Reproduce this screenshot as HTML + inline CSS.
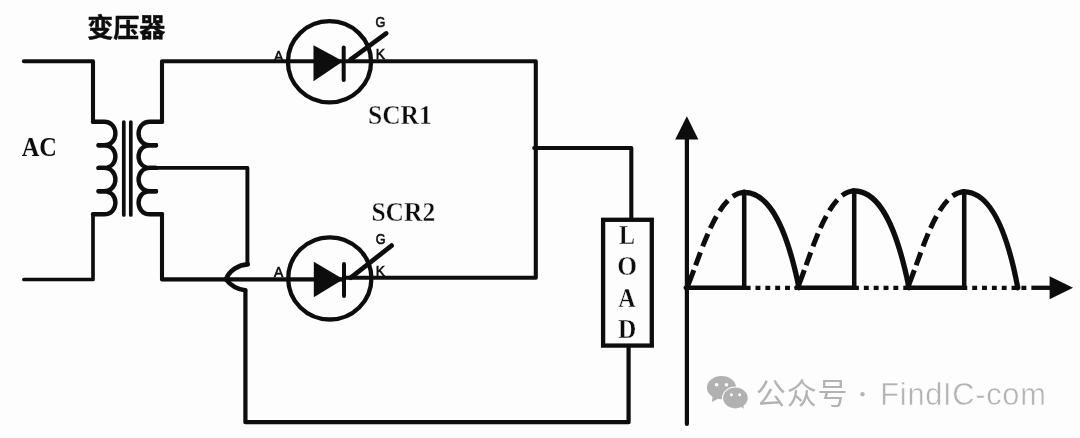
<!DOCTYPE html>
<html lang="zh">
<head>
<meta charset="utf-8">
<title>SCR full-wave rectifier</title>
<style>
html,body{margin:0;padding:0;background:#fdfdfe;}
body{width:1080px;height:438px;overflow:hidden;position:relative;}
svg{display:block;position:absolute;left:0;top:0;}
.w{fill:none;stroke:#0b0b0b;stroke-width:4.1;stroke-linecap:round;stroke-linejoin:round;}
.c{stroke-width:4.4;stroke-linejoin:round;}
.serif{font-family:"Liberation Serif","Noto Serif CJK SC",serif;fill:#111;}
.sans{font-family:"Liberation Sans","Noto Sans CJK SC",sans-serif;fill:#111;}
.wm{font-family:"Liberation Sans","Noto Sans CJK SC",sans-serif;fill:#b3b3b3;font-size:30px;}
</style>
</head>
<body>
<svg width="1080" height="438" viewBox="0 0 1080 438">
<defs>
<filter id="soft" x="0" y="0" width="1080" height="438" filterUnits="userSpaceOnUse"><feGaussianBlur stdDeviation="0.5"/></filter>
<filter id="soft2" x="0" y="0" width="1080" height="438" filterUnits="userSpaceOnUse"><feGaussianBlur stdDeviation="0.7"/></filter>
</defs>
<rect width="1080" height="438" fill="#fdfdfe"/>
<g filter="url(#soft)">
<!-- AC input wires -->
<path class="w" d="M23.9,61.3 H93 V121.7"/>
<path class="w" style="stroke-width:3.7" d="M23.9,279.5 H93 V214.3"/>
<!-- primary coil -->
<path class="w c" d="M93,121.7 H104 C119.2,121.7 119.2,145.2 104,145.2 H98.6"/>
<path class="w c" d="M98.6,145.2 H104 C119.2,145.2 119.2,167.9 104,167.9 H98.6"/>
<path class="w c" d="M98.6,167.9 H104 C119.2,167.9 119.2,191.2 104,191.2 H98.6"/>
<path class="w c" d="M98.6,191.2 H104 C119.2,191.2 119.2,214.3 104,214.3 H93"/>
<!-- core -->
<path class="w" style="stroke-width:3.7" d="M123.8,122 V215 M130.8,122 V215"/>
<!-- secondary coil -->
<path class="w c" d="M162,121.7 H150 C134.8,121.7 134.8,145.2 150,145.2 H156"/>
<path class="w c" d="M156,145.2 H150 C134.8,145.2 134.8,167.9 150,167.9 H156"/>
<path class="w c" d="M156,167.9 H150 C134.8,167.9 134.8,191.2 150,191.2 H156"/>
<path class="w c" d="M156,191.2 H150 C134.8,191.2 134.8,214.3 150,214.3 H162"/>
<!-- secondary wires -->
<path class="w" d="M162,121.7 V61.3 H535.8 V277.7 H344"/>
<path class="w" d="M344,279.4 H162 V214.3"/>
<path class="w" style="stroke-width:3.9" d="M156,167.9 H247.4 V264"/>
<path class="w" style="stroke-width:4.6;stroke-linejoin:round" d="M247.8,264.4 C239,264.8 229.5,270 226,279.4 C229.5,284 236.5,289.3 245.2,290.3"/>
<path class="w" style="stroke-width:4.2" d="M245.4,290.3 V422.2 H628.6 V346"/>
<path class="w" d="M534.2,148 H631.3 V219"/>
<!-- load -->
<rect class="w" x="603.1" y="219.8" width="48.7" height="125.8" style="stroke-linejoin:miter;stroke-width:4.3"/>
<!-- SCR1 -->
<ellipse class="w" style="stroke-width:4.3" cx="329.5" cy="61.8" rx="41.6" ry="40.6"/>
<path d="M313.5,45.3 L343.1,61.3 L313.5,81.3 Z" fill="#0b0b0b"/>
<path class="w" style="stroke-width:4" d="M343.7,47.5 V80.1"/>
<path class="w" style="stroke-width:4.7" d="M350.5,59.7 L386.2,33.4"/>
<text class="sans" transform="translate(274.0,60.8) scale(1.04,1.17)" font-size="13.3" stroke="#111" stroke-width="0.6">A</text>
<text class="sans" transform="translate(375.6,26.6) scale(0.95,1.12)" font-size="13.3" stroke="#111" stroke-width="0.6">G</text>
<text class="sans" transform="translate(375.8,59.2) scale(1.04,1.17)" font-size="13.3" stroke="#111" stroke-width="0.6">K</text>
<!-- SCR2 -->
<ellipse class="w" style="stroke-width:4.3" cx="329.8" cy="278.4" rx="41.6" ry="41.1"/>
<path d="M313.8,261.7 L343.4,279.3 L313.8,297.3 Z" fill="#0b0b0b"/>
<path class="w" style="stroke-width:4" d="M344.0,263.9 V296.1"/>
<path class="w" style="stroke-width:4.7" d="M350.8,277.7 L391.6,245.6"/>
<text class="sans" transform="translate(274.0,277.0) scale(1.04,1.17)" font-size="13.3" stroke="#111" stroke-width="0.6">A</text>
<text class="sans" transform="translate(375.8,243.6) scale(0.95,1.12)" font-size="13.3" stroke="#111" stroke-width="0.6">G</text>
<text class="sans" transform="translate(375.8,275.8) scale(1.04,1.17)" font-size="13.3" stroke="#111" stroke-width="0.6">K</text>
<!-- axes -->
<path class="w" style="stroke-width:4.2" d="M686.9,130 V424"/>
<path d="M686.8,116.3 L698.4,139.6 H675.2 Z" fill="#0b0b0b"/>
<path class="w" style="stroke-width:4.3;stroke-linecap:butt" d="M1031.4,287.8 H1052"/>
<path d="M1073,287.7 L1049.6,276.3 V299.2 Z" fill="#0b0b0b"/>
<!-- waveform -->
<path class="w" style="stroke-linecap:butt;stroke-dasharray:4.9 4.95;stroke-width:4.3" d="M745.65,287.8 H799.8 M854,287.8 H908.2 M962.35,287.8 H1031"/>
<path class="w" style="stroke-width:5.0;stroke-linecap:butt;stroke-dasharray:19 5.2 13.7 6.3 13.7 5.9 13.2 6.4 13.4 6.4 30" d="M687.0,287.7 C699.5,258.7 716.6,192.4 744.2,192.4"/>
<path class="w" style="stroke-width:5.3" d="M743.2,192.4 H744.2 C761.8,192.4 782.8,209.0 799.0,287.7"/>
<path class="w" style="stroke-width:4.5" d="M744.2,191.8 V287.7"/>
<path class="w" style="stroke-width:4.6" d="M685.8,287.7 H744.2"/>
<path class="w" style="stroke-width:5.0;stroke-linecap:butt;stroke-dasharray:19 5.2 13.7 6.3 13.7 5.9 13.2 6.4 13.4 6.4 30" d="M797.6,287.7 C810.1,258.7 826.6,191.0 854.2,191.0"/>
<path class="w" style="stroke-width:5.3" d="M853.2,191.0 H854.2 C871.8,191.0 892.8,207.6 909.0,287.7"/>
<path class="w" style="stroke-width:4.5" d="M854.2,190.4 V287.7"/>
<path class="w" style="stroke-width:4.6" d="M796.4,287.7 H854.2"/>
<path class="w" style="stroke-width:5.0;stroke-linecap:butt;stroke-dasharray:19 5.2 13.7 6.3 13.7 5.9 13.2 6.4 13.4 6.4 30" d="M907.6,287.7 C920.1,258.7 936.6,191.8 964.2,191.8"/>
<path class="w" style="stroke-width:5.3" d="M963.2,191.8 H964.2 C981.8,191.8 1002.8,208.4 1017.8,287.7"/>
<path class="w" style="stroke-width:4.5" d="M964.2,191.2 V287.7"/>
<path class="w" style="stroke-width:4.6" d="M906.4,287.7 H964.2"/>
<!-- labels -->
<text class="sans" x="87.3" y="37.1" font-size="26" font-weight="bold" stroke="#111" stroke-width="0.55" stroke-linejoin="round">变压器</text>
<text class="serif" transform="translate(21.7,155.9) scale(0.955,1.05)" x="0" y="0" font-size="25.5" font-weight="bold">AC</text>
<text class="serif" transform="translate(368,124.3) scale(1.0,1.04)" font-size="25.5" font-weight="bold" stroke="#fdfdfe" stroke-width="0.35">SCR1</text>
<text class="serif" transform="translate(371.4,221.2) scale(1.0,1.04)" font-size="25.5" font-weight="bold" stroke="#fdfdfe" stroke-width="0.35">SCR2</text>
<g class="serif" font-size="24" font-weight="bold" text-anchor="middle" stroke="#fdfdfe" stroke-width="0.3">
<text transform="translate(627,244) scale(1,1.13)">L</text>
<text transform="translate(627.2,275.3) scale(1.06,1.1)">O</text>
<text transform="translate(627,306.6) scale(1,1.1)">A</text>
<text transform="translate(627.2,338.4) scale(1.06,1.1)">D</text>
</g>
</g>
<!-- watermark -->
<g filter="url(#soft2)">
<g fill="#b1b1b1">
<ellipse cx="721.5" cy="387.6" rx="14.6" ry="11.6"/>
<path d="M712.6,396 L712,402 L718.6,398.4 Z"/>
<ellipse cx="735.4" cy="398" rx="13.4" ry="11.4" fill="#fdfdfd"/>
<ellipse cx="735.4" cy="398" rx="12.3" ry="10.4"/>
<path d="M740,406 L743.8,408.8 L743.2,404 Z"/>
<circle cx="716.7" cy="384.8" r="1.8" fill="#fdfdfd"/><circle cx="726.4" cy="384.8" r="1.8" fill="#fdfdfd"/>
<circle cx="731.4" cy="394.8" r="1.5" fill="#fdfdfd"/><circle cx="739.6" cy="394.8" r="1.5" fill="#fdfdfd"/>
</g>
<text class="wm"><tspan x="755.8" y="403.5" letter-spacing="0.9">公众号 </tspan><tspan x="862.6" y="400.7" text-anchor="middle" font-size="17" font-weight="bold" style="font-family:'Noto Sans CJK SC',sans-serif">·</tspan><tspan x="871.1" y="405.4" font-size="30.8" letter-spacing="0.7" stroke="#fdfdfd" stroke-width="0.5"> FindIC-com</tspan></text>
</g>
</svg>
</body>
</html>
